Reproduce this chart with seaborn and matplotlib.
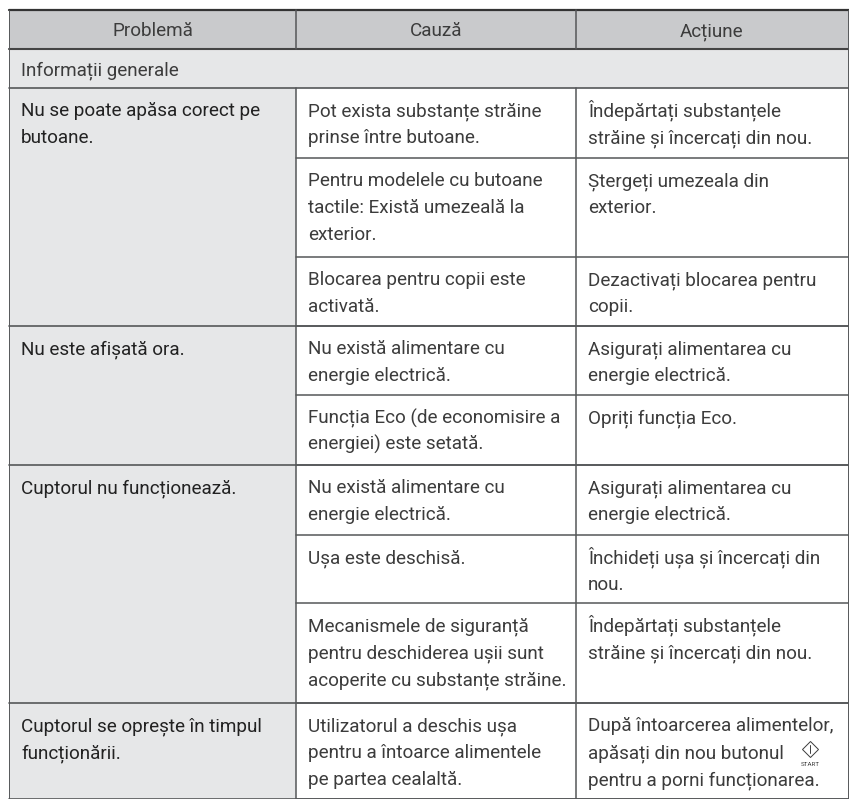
import matplotlib
matplotlib.use("Agg")
import matplotlib.pyplot as plt
import seaborn as sns

headers = ["Problemă", "Cauză", "Acțiune"]
section = "Informații generale"
problems = [
    "Nu se poate apăsa corect pe\nbutoane.",
    "Nu este afișată ora.",
    "Cuptorul nu funcționează.",
    "Cuptorul se oprește în timpul\nfuncționării.",
]
problem_spans = [3, 2, 3, 1]
causes = [
    "Pot exista substanțe străine\nprinse între butoane.",
    "Pentru modelele cu butoane\ntactile: Există umezeală la\nexterior.",
    "Blocarea pentru copii este\nactivată.",
    "Nu există alimentare cu\nenergie electrică.",
    "Funcția Eco (de economisire a\nenergiei) este setată.",
    "Nu există alimentare cu\nenergie electrică.",
    "Ușa este deschisă.",
    "Mecanismele de siguranță\npentru deschiderea ușii sunt\nacoperite cu substanțe străine.",
    "Utilizatorul a deschis ușa\npentru a întoarce alimentele\npe partea cealaltă.",
]
actions = [
    "Îndepărtați substanțele\nstrăine și încercați din nou.",
    "Ștergeți umezeala din\nexterior.",
    "Dezactivați blocarea pentru\ncopii.",
    "Asigurați alimentarea cu\nenergie electrică.",
    "Opriți funcția Eco.",
    "Asigurați alimentarea cu\nenergie electrică.",
    "Închideți ușa și încercați din\nnou.",
    "Îndepărtați substanțele\nstrăine și încercați din nou.",
    "După întoarcerea alimentelor,\napăsați din nou butonul\npentru a porni funcționarea.",
]

sns.set_theme(style="white")
plt.rcParams["font.family"] = ["Roboto", "DejaVu Sans"]

fig = plt.figure(figsize=(8.49, 7.99), dpi=100)
ax = fig.add_axes([0, 0, 1, 1])
ax.set_xlim(0, 849)
ax.set_ylim(799, 0)
ax.axis("off")

X = [9, 296, 576, 848]
Y = [10, 49, 88, 158, 257, 326, 395, 465, 535, 603, 703, 799]

GRID = "#555759"
HEAD = "#c9cacc"
SOFT = "#e6e7e8"
INK = "#3c3c3c"
DARK = "#222222"
FS = 13.6
LINE = 27
BASE = 28


def block(x, top, text, color=INK):
    for k, part in enumerate(text.split("\n")):
        ax.text(x, top + BASE + k * LINE, part, ha="left", va="baseline", fontsize=FS, color=color)


ax.fill_between([X[0], X[3]], Y[0], Y[1], color=HEAD, lw=0)
ax.fill_between([X[0], X[3]], Y[1], Y[2], color=SOFT, lw=0)
ax.fill_between([X[0], X[1]], Y[2], 799, color=SOFT, lw=0)

for i, t in enumerate(headers):
    ax.text((X[i] + X[i + 1]) / 2, Y[0] + 26, t, ha="center", va="baseline", fontsize=FS, color=INK)
ax.text(X[0] + 12, Y[1] + 26, section, ha="left", va="baseline", fontsize=FS, color=INK)

row = 0
for t, span in zip(problems, problem_spans):
    block(X[0] + 12, Y[2 + row], t, DARK)
    row += span
    ax.plot([X[0], 849], [Y[2 + row]] * 2, color=GRID, lw=1.2)

for i, (c, a) in enumerate(zip(causes, actions)):
    block(X[1] + 12, Y[2 + i], c)
    block(X[2] + 12, Y[2 + i], a)
    ax.plot([X[1], 849], [Y[3 + i]] * 2, color=GRID, lw=1.1)

ax.plot([X[0], 849], [Y[0], Y[0]], color="#333333", lw=1.6)
ax.plot([X[0], 849], [Y[1], Y[1]], color="#444444", lw=1.5)
ax.plot([X[0], 849], [Y[2], Y[2]], color=GRID, lw=1.2)
for x in (X[0], X[3]):
    ax.plot([x, x], [Y[0], 799], color=GRID, lw=0.7)
for x in (X[1], X[2]):
    ax.plot([x, x], [Y[0], Y[1]], color=GRID, lw=1.1)
    ax.plot([x, x], [Y[2], 799], color=GRID, lw=1.1)

# START icon
ax.plot([810], [749], marker="D", ms=8.2, mfc="none", mec=INK, mew=0.7)
ax.plot([810, 810], [745, 753], color=INK, lw=0.7)
ax.text(810, 764, "START", ha="center", va="center", fontsize=4.5, color=INK)

fig.savefig("out.png", dpi=100)
